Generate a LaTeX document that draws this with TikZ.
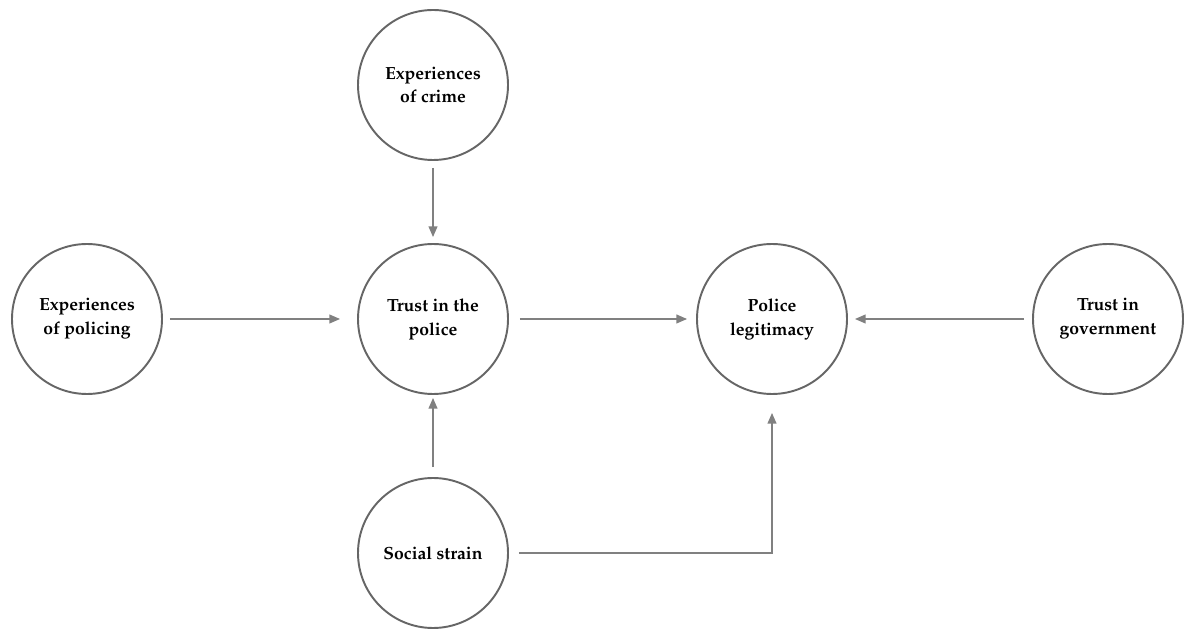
\documentclass[tikz,border=0pt]{standalone}
\usepackage[T1]{fontenc}
\usepackage{mathpazo}
\usetikzlibrary{arrows.meta}

\tikzset{
  construct/.style={circle, draw=black!60, line width=1.1pt, minimum size=150\px,
    inner sep=0pt, align=center, font=\fontsize{10}{13.6}\selectfont\bfseries},
  path/.style={draw=black!50, line width=0.75pt,
    -{Triangle[length=6pt, width=5pt]}},
}
\newlength{\px}
\setlength{\px}{0.02cm}

\begin{document}
\begin{tikzpicture}[x=0.02cm, y=-0.02cm]
    % Frame
    \useasboundingbox (0,0) rectangle (1184,631);

    % Constructs
    \node[construct] (Crime) at (433,85) {Experiences\\of crime};
    \node[construct] (Policing) at (87,319) {Experiences\\of policing};
    \node[construct] (Trust) at (433,319) {Trust in the\\police};
    \node[construct] (Legit) at (772,319) {Police\\legitimacy};
    \node[construct] (Gov) at (1108,319) {Trust in\\government};
    \node[construct] (Strain) at (433,553) {Social strain};

    % Paths
    \draw[path, shorten <=7\px, shorten >=6\px] (Crime) -- (Trust);
    \draw[path, shorten <=7\px, shorten >=17\px] (Policing) -- (Trust);
    \draw[path, shorten <=11\px, shorten >=9\px] (Trust) -- (Legit);
    \draw[path, shorten <=8\px, shorten >=7\px] (Gov) -- (Legit);
    \draw[path, shorten <=10\px, shorten >=3\px] (Strain) -- (Trust);
    \draw[path, shorten <=10\px, shorten >=18\px] (Strain.east) -| (Legit);
\end{tikzpicture}
\end{document}
